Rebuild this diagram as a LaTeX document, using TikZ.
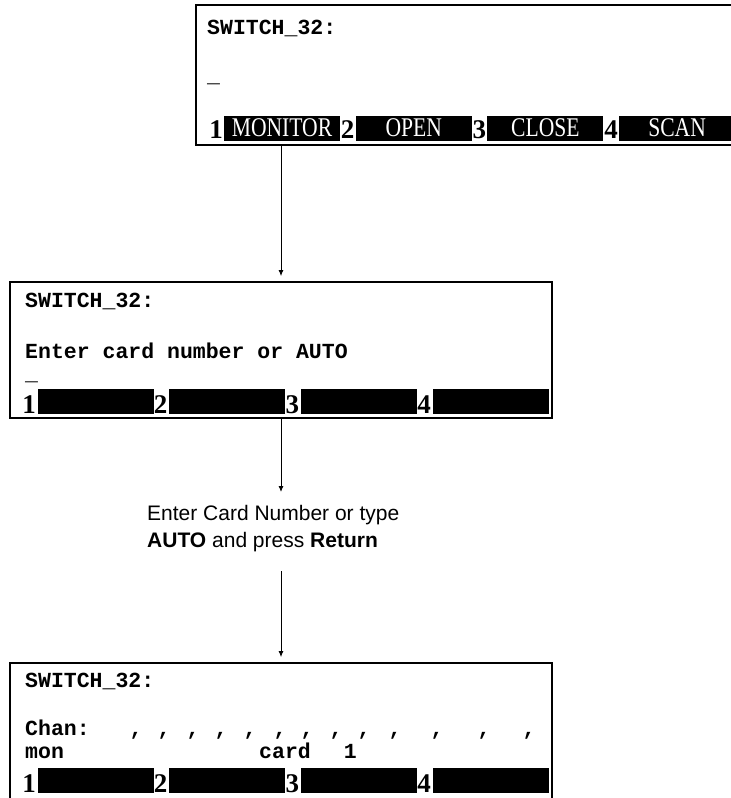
\documentclass[tikz,border=0pt]{standalone}
\usepackage{fontspec}
\usepackage{graphicx}
\setsansfont{Liberation Sans}
\newfontfamily\scrfont{Liberation Mono}
\newfontfamily\keyfont{Liberation Serif}
\usetikzlibrary{arrows.meta}

\begin{document}
\begin{tikzpicture}[
  x=1pt,y=-1pt,
  >={Latex[length=6pt,width=5pt]},
  screen/.style={draw,line width=1.8pt,inner sep=0pt,minimum width=542pt,minimum height=136pt},
  scr/.style={anchor=base west,inner sep=0pt,font=\scrfont\bfseries\fontsize{21.5}{26}\selectfont},
  key/.style={fill=black,text=white,inner sep=0pt,minimum width=116pt,minimum height=25pt,font=\keyfont\fontsize{27}{30}\selectfont},
  num/.style={anchor=base,inner sep=0pt,font=\keyfont\bfseries\fontsize{27}{30}\selectfont},
  flow/.style={->,line width=.9pt,shorten >=5pt},
  hint/.style={anchor=north west,inner sep=0pt,align=left,font=\sffamily\fontsize{21}{27}\selectfont}
]
  \useasboundingbox (0,0) rectangle (731,798);

  \node[screen,minimum width=544pt,minimum height=140pt] (top) at (468,75) {};
  \node[scr] (top-title) at (207,34) {SWITCH\_32:};
  \node[scr] (top-cursor) at (207,82) {\_};
  \foreach \i/\lbl in {1/MONITOR,2/OPEN,3/CLOSE,4/SCAN} {
    \node[key] (top-key\i) at ({282+131.7*(\i-1)},128) {\scalebox{.8}[1]{\lbl}};
    \node[num] (top-num\i) at ({216+131.7*(\i-1)},138) {\i};
  }

  \node[screen] (mid) at (281,350) {};
  \node[scr] (mid-title) at (25,307) {SWITCH\_32:};
  \node[scr] (mid-prompt) at (25,358) {Enter card number or AUTO};
  \node[scr] (mid-cursor) at (25,380) {\_};
  \foreach \i in {1,...,4} {
    \node[key] (mid-key\i) at ({95.5+131.7*(\i-1)},401) {};
    \node[num] (mid-num\i) at ({29+131.7*(\i-1)},413) {\i};
  }

  \node[hint] (hint) at (147,505) {Enter Card Number or type\\\textbf{AUTO} and press \textbf{Return}};

  \node[screen,minimum height=142pt] (bot) at (281,734) {};
  \node[scr] (bot-title) at (25,687) {SWITCH\_32:};
  \node[scr] (bot-chan) at (25,735) {Chan:};
  \foreach \cx in {136,164,193,221,250,280,307,336,364,395,437,484,529}
    \node[scr,anchor=base] (bot-comma\cx) at (\cx,735) {,};
  \node[scr] (bot-mon) at (25,758) {mon};
  \node[scr] (bot-card) at (259,758) {card\hspace{33pt}1};
  \foreach \i in {1,...,4} {
    \node[key] (bot-key\i) at ({95.5+131.7*(\i-1)},780) {};
    \node[num] (bot-num\i) at ({29+131.7*(\i-1)},792) {\i};
  }

  \draw[flow] (top.south -| mid.north) -- (mid.north);
  \draw[flow,shorten >=4pt] (mid.south) -- ([yshift=9pt]hint.north -| mid.south);
  \draw[flow] ([yshift=-19.5pt]hint.south -| mid.south) -- (bot.north);
\end{tikzpicture}
\end{document}
